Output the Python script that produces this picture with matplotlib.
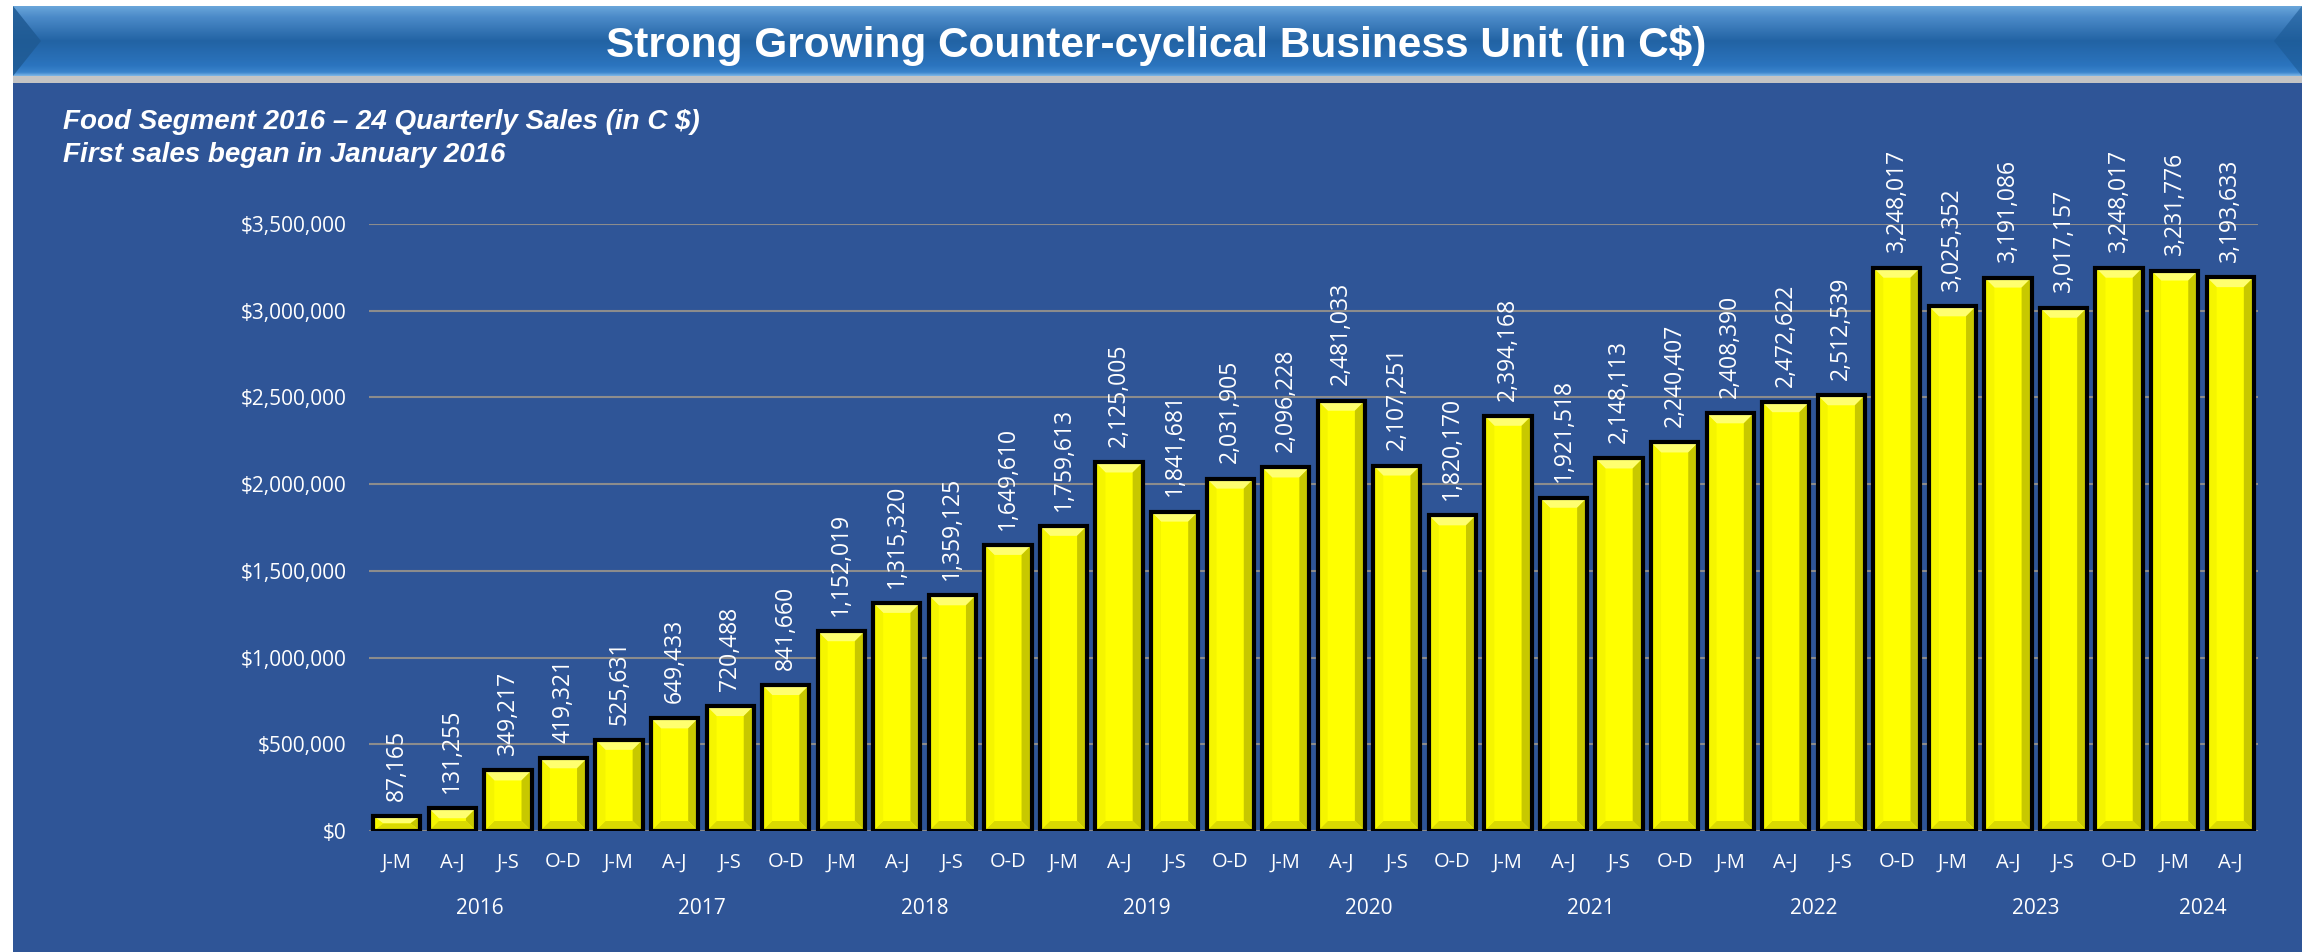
import matplotlib
matplotlib.use("Agg")
import matplotlib.pyplot as plt
import numpy as np
from matplotlib.patches import Rectangle, Polygon
from matplotlib.colors import LinearSegmentedColormap

# ---------------- data ----------------
quarters = ["J-M", "A-J", "J-S", "O-D"] * 8 + ["J-M", "A-J"]
years = ["2016", "2017", "2018", "2019", "2020", "2021", "2022", "2023", "2024"]
quarters_per_year = [4, 4, 4, 4, 4, 4, 4, 4, 2]
sales = [87165, 131255, 349217, 419321,
         525631, 649433, 720488, 841660,
         1152019, 1315320, 1359125, 1649610,
         1759613, 2125005, 1841681, 2031905,
         2096228, 2481033, 2107251, 1820170,
         2394168, 1921518, 2148113, 2240407,
         2408390, 2472622, 2512539, 3248017,
         3025352, 3191086, 3017157, 3248017,
         3231776, 3193633]
yticks = [0, 500000, 1000000, 1500000, 2000000, 2500000, 3000000, 3500000]
title = "Strong Growing Counter-cyclical Business Unit (in C$)"
subtitle1 = "Food Segment 2016 \u2013 24 Quarterly Sales (in C $)"
subtitle2 = "First sales began in January 2016"

# ---------------- figure ----------------
W, H = 2312, 952
DPI = 100
fig = plt.figure(figsize=(W / DPI, H / DPI), dpi=DPI, facecolor="white")

def fx(px):
    return px / W

def fy(py):
    return 1 - py / H

PANEL = "#2F5597"
bg = fig.add_axes([0, 0, 1, 1], zorder=-10)
bg.set_axis_off()
bg.set_xlim(0, W)
bg.set_ylim(H, 0)
bg.add_patch(Rectangle((13, 82), 2302 - 13, H - 82, facecolor=PANEL, edgecolor="none"))
bg.add_patch(Rectangle((13, 76), 2302 - 13, 7, facecolor="#C4C4C4", edgecolor="none"))

# title bar with gradient
tax = fig.add_axes([fx(13), fy(76), fx(2302 - 13), 70 / H], zorder=-5)
tax.set_axis_off()
grad_cmap = LinearSegmentedColormap.from_list(
    "tb", [(0.0, "#6AA6DA"), (0.15, "#4C8BC9"), (0.5, "#2263A4"), (0.85, "#2B74BE"), (0.95, "#3A84CC"), (1.0, "#7DB5E6")])
g = np.linspace(0, 1, 200).reshape(-1, 1)
tax.imshow(g, aspect="auto", cmap=grad_cmap, extent=[0, 1, 0, 1], origin="upper")
tax.set_xlim(0, 1)
tax.set_ylim(0, 1)
bev = 28 / (2302 - 13)
tax.add_patch(Polygon([[0, 1], [bev, 0.5], [0, 0]], closed=True, facecolor="#1F5A93", edgecolor="none", alpha=0.85))
tax.add_patch(Polygon([[1, 1], [1 - bev, 0.5], [1, 0]], closed=True, facecolor="#1C5A96", edgecolor="none", alpha=0.6))
fig.text(0.5, fy(57), title, ha="center", va="baseline", color="white",
         fontsize=30.5, fontweight="bold", family=["Liberation Sans", "DejaVu Sans"])

# subtitle
fig.text(fx(63), fy(122), subtitle1, ha="left", va="center", color="white",
         fontsize=20, fontweight="bold", fontstyle="italic", family=["Liberation Sans", "DejaVu Sans"])
fig.text(fx(63), fy(155), subtitle2, ha="left", va="center", color="white",
         fontsize=20, fontweight="bold", fontstyle="italic", family=["Liberation Sans", "DejaVu Sans"])

# ---------------- chart ----------------
ax = fig.add_axes([fx(369), fy(831), fx(2258 - 369), (831 - 224) / H])
ax.set_facecolor("none")
x = np.arange(len(sales))
bw = 0.85
bars = ax.bar(x, sales, width=bw, color="#FFFF00", edgecolor="none", zorder=2)
ax.bar(x, sales, width=bw, fill=False, edgecolor="black", linewidth=3, zorder=4)

ax.set_xlim(-0.5, len(sales) - 0.5)
ax.set_ylim(0, 3500000)

# bevel shading derived from bar geometry
px_per_x = (2258 - 369) / len(sales)
px_per_y = (831 - 224) / 3500000
d = 10
for p in bars.patches:
    x0, y0 = p.get_x(), p.get_y()
    x1, y1 = x0 + p.get_width(), y0 + p.get_height()
    dx = d / px_per_x
    dy = min(d / px_per_y, (y1 - y0) / 2)
    top = Polygon([[x0, y1], [x1, y1], [x1 - dx, y1 - dy], [x0 + dx, y1 - dy]], facecolor="#FFFF70", edgecolor="none", zorder=3)
    right = Polygon([[x1, y1], [x1, y0], [x1 - dx, y0 + dy], [x1 - dx, y1 - dy]], facecolor="#C8C800", edgecolor="none", zorder=3)
    bottom = Polygon([[x0, y0], [x1, y0], [x1 - dx, y0 + dy], [x0 + dx, y0 + dy]], facecolor="#DADA00", edgecolor="none", zorder=3)
    left = Polygon([[x0, y0], [x0, y1], [x0 + dx, y1 - dy], [x0 + dx, y0 + dy]], facecolor="#F5F500", edgecolor="none", zorder=3)
    for poly in (top, right, bottom, left):
        ax.add_patch(poly)

# grid and axes styling
ax.set_yticks(yticks)
ax.set_yticklabels(["${:,.0f}".format(v) for v in yticks])
ax.yaxis.grid(True, color="#8C8C8C", linewidth=1.5, zorder=1)
ax.set_axisbelow(True)
for s in ax.spines.values():
    s.set_visible(False)
ax.tick_params(axis="y", length=0, pad=16, labelsize=15, labelcolor="white")
ax.tick_params(axis="x", length=0)
for t in ax.get_yticklabels():
    t.set_family(["Open Sans", "DejaVu Sans"])
ax.set_xticks([])

xtrans = ax.get_xaxis_transform()
for i, q in enumerate(quarters):
    ax.annotate(q, xy=(i, 0), xycoords=xtrans, xytext=(0, -22.5), textcoords="offset points",
                ha="center", va="center", color="white", fontsize=14.5, family=["Open Sans", "DejaVu Sans"])

start = 0
for yr, n in zip(years, quarters_per_year):
    c = start + (n - 1) / 2
    ax.annotate(yr, xy=(c, 0), xycoords=xtrans, xytext=(0, -55.5), textcoords="offset points",
                ha="center", va="center", color="white", fontsize=15, family=["Open Sans", "DejaVu Sans"])
    start += n

for i, v in enumerate(sales):
    ax.annotate("{:,}".format(v), xy=(i, v), xytext=(0, 11), textcoords="offset points",
                ha="center", va="bottom", rotation=90, color="white", fontsize=16.5,
                family=["Open Sans", "DejaVu Sans"], annotation_clip=False)

fig.savefig("out.png", dpi=DPI, facecolor="white")
